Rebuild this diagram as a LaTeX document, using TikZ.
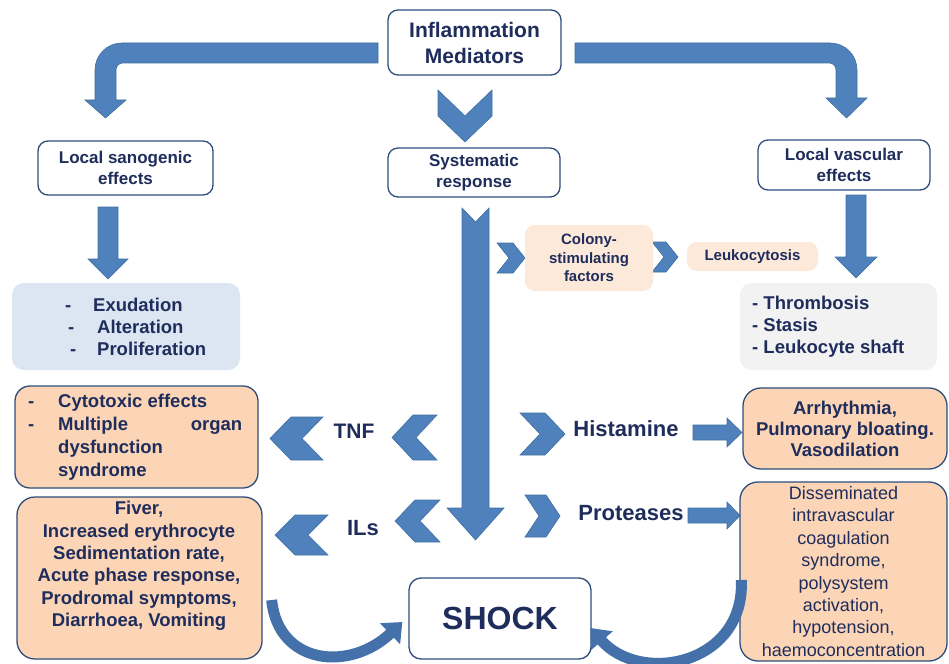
\documentclass[tikz,border=0pt]{standalone}
\usepackage{fontspec}
\setmainfont{Liberation Sans}
\usetikzlibrary{arrows.meta}
\definecolor{navy}{HTML}{1F2D5C}
\definecolor{bordc}{HTML}{2E4D7B}
\definecolor{arrf}{HTML}{4F81BD}
\definecolor{arre}{HTML}{40709F}
\definecolor{peach}{HTML}{FBD5B5}
\definecolor{peachl}{HTML}{FDE9D9}
\definecolor{lblue}{HTML}{DCE6F2}
\definecolor{lgray}{HTML}{F2F2F2}
\definecolor{curvc}{HTML}{4471A9}
\newcommand\fs[2]{\fontsize{#1}{#2}\selectfont}
\newcommand\chevR[5]{\path[blk] (#1,#2) -- ({#3-#5},#2) -- (#3,{(#2+#4)/2}) -- ({#3-#5},#4) -- (#1,#4) -- ({#1+#5},{(#2+#4)/2}) -- cycle;}
\newcommand\chevL[5]{\path[blk] (#3,#2) -- ({#1+#5},#2) -- (#1,{(#2+#4)/2}) -- ({#1+#5},#4) -- (#3,#4) -- ({#3-#5},{(#2+#4)/2}) -- cycle;}
\newcommand\chevD[5]{\path[blk] (#1,#2) -- ({(#1+#3)/2},{#2+#5}) -- (#3,#2) -- (#3,{#4-#5}) -- ({(#1+#3)/2},#4) -- (#1,{#4-#5}) -- cycle;}
\tikzset{
 wbox/.style={draw=bordc, line width=1.3pt, fill=white, rounded corners=10pt, inner sep=0pt, align=center, text=navy, font=\bfseries\fs{17}{21}},
 obox/.style={draw=bordc, line width=1.3pt, fill=peach, rounded corners=18pt, inner sep=0pt, text=navy},
 sbox/.style={fill=peachl, rounded corners=10pt, inner sep=0pt, align=center, text=navy, font=\bfseries\fs{15}{18.5}},
 pbox/.style={rounded corners=12pt, inner sep=0pt},
 txt/.style={text=navy, inner sep=0pt},
 blk/.style={fill=arrf, draw=arre, line width=0.6pt, line join=miter},
 lbl/.style={text=navy, font=\bfseries\fs{22}{26}, inner sep=0pt},
 curv/.style={draw=curvc, line width=11pt, -{Triangle[width=28pt,length=17pt]}},
}
\begin{document}
\begin{tikzpicture}[x=1pt,y=-1pt]
\useasboundingbox[fill=white] (0,0) rectangle (949,663);

% block arrows and chevrons
\path[blk] (378,43) -- (122,43) .. controls (107,43) and (95,55) .. (95,70) -- (95,100) -- (85,100) -- (105.5,118) -- (126,100) -- (116,100) -- (116,70) .. controls (116,66) and (119,63) .. (123,63) -- (378,63) -- cycle;
\path[blk] (575,43) -- (830,43) .. controls (845,43) and (857,55) .. (857,70) -- (857,98) -- (867,98) -- (846.5,118) -- (826,98) -- (836,98) -- (836,70) .. controls (836,66) and (833,63) .. (829,63) -- (575,63) -- cycle;
\chevD{438}{90}{492}{142}{26}
\path[blk] (98,207) -- (118,207) -- (118,259) -- (128,259) -- (108,279) -- (88,259) -- (98,259) -- cycle;
\path[blk] (846,195) -- (866,195) -- (866,257) -- (877,257) -- (856,278) -- (835,257) -- (846,257) -- cycle;
\path[blk] (462,208) -- (475.5,222) -- (489,208) -- (489,508) -- (504,508) -- (475.5,540) -- (447,508) -- (462,508) -- cycle;
\chevR{497}{243}{525}{273}{12}
\chevR{652}{242}{678}{272}{12}
\chevL{270}{417}{323}{460}{21}
\chevL{392}{415}{437}{460}{21}
\chevL{275}{515}{328}{555}{20}
\chevL{395}{500}{440}{542}{20}
\chevR{520}{413}{565}{455}{20}
\chevR{525}{495}{560}{537}{14}
\path[blk] (693,425) -- (727,425) -- (727,418) -- (742,432.5) -- (727,447) -- (727,440) -- (693,440) -- cycle;
\path[blk] (688,508) -- (727,508) -- (727,502) -- (740,515.5) -- (727,529) -- (727,523) -- (688,523) -- cycle;

% boxes
\node[wbox, minimum width=173pt, minimum height=65pt, font=\bfseries\fs{21}{26}] (infl) at (474.5,42.5) {Inflammation\\Mediators};
\node[wbox, minimum width=175pt, minimum height=54pt] (sano) at (125.5,168) {Local sanogenic\\effects};
\node[wbox, minimum width=172pt, minimum height=49pt] (sys) at (474,172.5) {Systematic\\response};
\node[wbox, minimum width=172pt, minimum height=50pt] (vasc) at (844,165) {Local vascular\\effects};

\node[pbox, fill=lblue, minimum width=228pt, minimum height=87pt] (exud) at (126,326.5) {};
\node[txt, font=\bfseries\fs{18.5}{22}, align=left, anchor=west] (exudt) at (65,326.5)
 {\makebox[28pt][l]{-}Exudation\\ \hspace*{3pt}\makebox[29pt][l]{-}Alteration\\ \hspace*{5pt}\makebox[27pt][l]{-}Proliferation};

\node[sbox, minimum width=128pt, minimum height=66pt] (csf) at (589,258) {Colony-\\stimulating\\factors};
\node[sbox, minimum width=131pt, minimum height=29pt] (leuk) at (752.5,256.5) {Leukocytosis};

\node[pbox, fill=lgray, minimum width=197pt, minimum height=87pt] (thr) at (838.5,326.5) {};
\node[txt, font=\bfseries\fs{18.5}{22}, align=left, anchor=west] (thrt) at (752,326.5) {- Thrombosis\\- Stasis\\- Leukocyte shaft};

\node[obox, rounded corners=15pt, minimum width=243pt, minimum height=102pt] (cyto) at (136.5,437) {};
\node[txt, font=\bfseries\fs{18.5}{23}, align=left, anchor=west] (cytot) at (28,437)
 {\makebox[30pt][l]{-}Cytotoxic effects\\ \makebox[30pt][l]{-}\makebox[184pt][s]{Multiple\hfill organ}\\ \makebox[30pt]{}dysfunction\\ \makebox[30pt]{}syndrome};

\node[obox, minimum width=245pt, minimum height=162pt] (fiver) at (139.5,578) {};
\node[txt, font=\bfseries\fs{18.5}{22.4}, align=center] (fivert) at (139,566)
 {Fiver,\\Increased erythrocyte\\Sedimentation rate,\\Acute phase response,\\Prodromal symptoms,\\Diarrhoea, Vomiting};

\node[obox, minimum width=204pt, minimum height=81pt, align=center, font=\bfseries\fs{18.5}{21}] (arr) at (845,428.5) {Arrhythmia,\\Pulmonary bloating.\\Vasodilation};
\node[obox, minimum width=207pt, minimum height=179pt, align=center, font=\fs{18}{22.4}] (dic) at (843.5,571.5)
 {Disseminated\\intravascular\\coagulation\\syndrome,\\polysystem\\activation,\\hypotension,\\haemoconcentration};

\node[wbox, minimum width=182pt, minimum height=81pt, rounded corners=12pt, font=\bfseries\fs{32}{36}] (shock) at (500,618.5) {SHOCK};

% labels
\node[lbl, font=\bfseries\fs{21}{26}] (tnf) at (354,431) {TNF};
\node[lbl] (ils) at (363,528) {ILs};
\node[lbl] (hist) at (626,429) {Histamine};
\node[lbl] (prot) at (631,513) {Proteases};

% curved arrows to shock
\draw[curv] ([shift={(9,22)}]fiver.east) .. controls (278,665) and (350,672) .. ([shift={(-6,3.5)}]shock.west);
\draw[curv] ([shift={(2,8.5)}]dic.west) .. controls (745,665) and (640,685) .. ([shift={(-1,9.5)}]shock.east);
\end{tikzpicture}
\end{document}
